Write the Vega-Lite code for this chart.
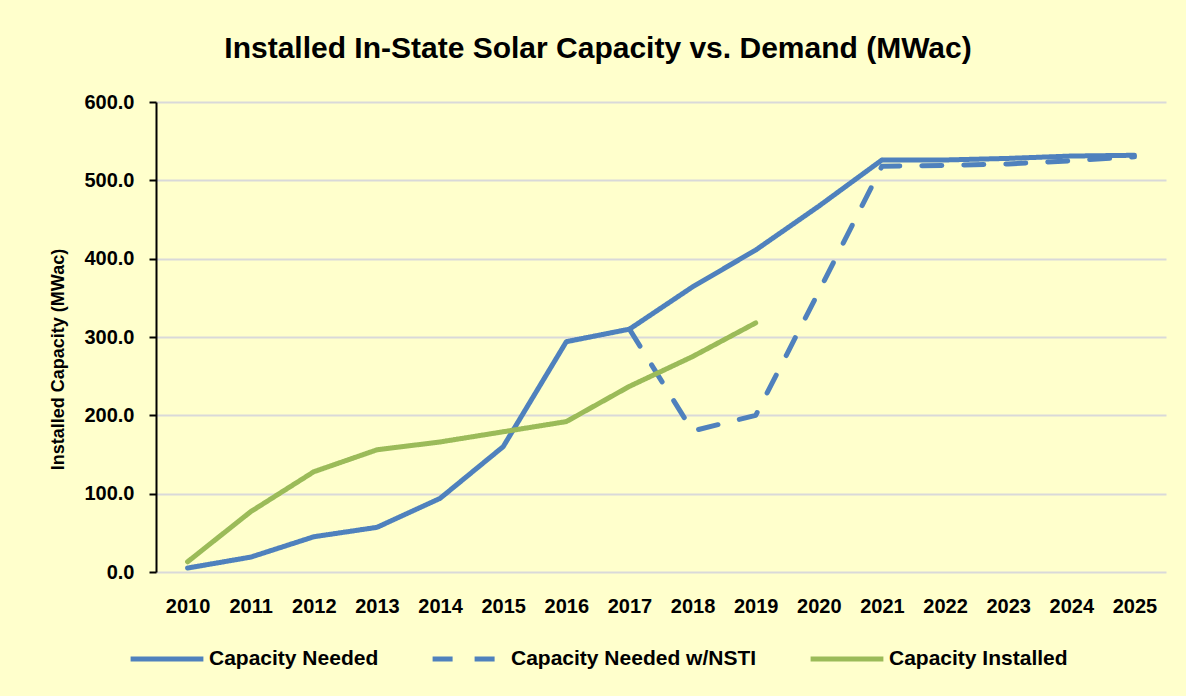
{
  "$schema": "https://vega.github.io/schema/vega-lite/v6.json",
  "width": 1010,
  "height": 470,
  "autosize": {"type": "none"},
  "padding": {"left": 156, "top": 102, "right": 20, "bottom": 124},
  "background": "#FFFFCC",
  "config": {
    "view": {"stroke": null},
    "font": "'Liberation Sans Narrow', 'Arial Narrow', 'Liberation Sans', sans-serif"
  },
  "title": {
    "text": "Installed In-State Solar Capacity vs. Demand (MWac)",
    "fontSize": 30,
    "fontWeight": "bold",
    "color": "#000000",
    "anchor": "middle",
    "dx": -63,
    "offset": 28
  },
  "data": {
    "values": [
      {"year": "2010", "series": "Capacity Needed", "value": 5},
      {"year": "2011", "series": "Capacity Needed", "value": 19},
      {"year": "2012", "series": "Capacity Needed", "value": 45},
      {"year": "2013", "series": "Capacity Needed", "value": 57},
      {"year": "2014", "series": "Capacity Needed", "value": 94},
      {"year": "2015", "series": "Capacity Needed", "value": 160},
      {"year": "2016", "series": "Capacity Needed", "value": 294},
      {"year": "2017", "series": "Capacity Needed", "value": 310},
      {"year": "2018", "series": "Capacity Needed", "value": 364},
      {"year": "2019", "series": "Capacity Needed", "value": 411},
      {"year": "2020", "series": "Capacity Needed", "value": 467},
      {"year": "2021", "series": "Capacity Needed", "value": 526},
      {"year": "2022", "series": "Capacity Needed", "value": 526},
      {"year": "2023", "series": "Capacity Needed", "value": 528},
      {"year": "2024", "series": "Capacity Needed", "value": 531},
      {"year": "2025", "series": "Capacity Needed", "value": 532},
      {"year": "2017", "series": "Capacity Needed w/NSTI", "value": 310},
      {"year": "2018", "series": "Capacity Needed w/NSTI", "value": 180},
      {"year": "2019", "series": "Capacity Needed w/NSTI", "value": 200},
      {"year": "2020", "series": "Capacity Needed w/NSTI", "value": 358},
      {"year": "2021", "series": "Capacity Needed w/NSTI", "value": 518},
      {"year": "2022", "series": "Capacity Needed w/NSTI", "value": 519},
      {"year": "2023", "series": "Capacity Needed w/NSTI", "value": 521},
      {"year": "2024", "series": "Capacity Needed w/NSTI", "value": 525},
      {"year": "2025", "series": "Capacity Needed w/NSTI", "value": 530},
      {"year": "2010", "series": "Capacity Installed", "value": 13},
      {"year": "2011", "series": "Capacity Installed", "value": 77},
      {"year": "2012", "series": "Capacity Installed", "value": 128},
      {"year": "2013", "series": "Capacity Installed", "value": 156},
      {"year": "2014", "series": "Capacity Installed", "value": 166},
      {"year": "2015", "series": "Capacity Installed", "value": 179},
      {"year": "2016", "series": "Capacity Installed", "value": 192},
      {"year": "2017", "series": "Capacity Installed", "value": 237},
      {"year": "2018", "series": "Capacity Installed", "value": 275},
      {"year": "2019", "series": "Capacity Installed", "value": 318}
    ]
  },
  "mark": {"type": "line", "strokeWidth": 5, "strokeCap": "round", "strokeJoin": "round"},
  "encoding": {
    "x": {
      "field": "year",
      "type": "ordinal",
      "scale": {"type": "point", "padding": 0.5},
      "axis": {
        "title": null,
        "labelAngle": 0,
        "labelFontSize": 20,
        "labelFontWeight": "bold",
        "labelColor": "#000000",
        "labelPadding": 24,
        "ticks": false,
        "domain": false,
        "grid": false
      }
    },
    "y": {
      "field": "value",
      "type": "quantitative",
      "scale": {"domain": [0, 600], "nice": false},
      "axis": {
        "title": "Installed Capacity (MWac)",
        "titleFontSize": 18,
        "titleFontWeight": "bold",
        "titleColor": "#000000",
        "titleX": -98,
        "titleY": 257,
        "titleAlign": "center",
        "titleBaseline": "middle",
        "values": [0, 100, 200, 300, 400, 500, 600],
        "format": ".1f",
        "labelFontSize": 20,
        "labelFontWeight": "bold",
        "labelColor": "#000000",
        "labelPadding": 15,
        "domainColor": "#000000",
        "domainWidth": 2,
        "tickColor": "#000000",
        "tickWidth": 2,
        "tickSize": 7,
        "gridColor": "#D9D9D9",
        "gridWidth": 2
      }
    },
    "color": {
      "field": "series",
      "type": "nominal",
      "scale": {
        "domain": ["Capacity Needed", "Capacity Needed w/NSTI", "Capacity Installed"],
        "range": ["#4F81BD", "#4F81BD", "#9BBB59"]
      },
      "legend": {
        "title": null,
        "orient": "none",
        "legendX": -28,
        "legendY": 518,
        "direction": "horizontal",
        "columns": 3,
        "symbolType": "stroke",
        "symbolSize": 5300,
        "symbolStrokeWidth": 5,
        "labelFontSize": 21,
        "labelFontWeight": "bold",
        "labelColor": "#000000",
        "labelOffset": 3,
        "columnPadding": 43,
        "padding": 0,
        "labelLimit": 400
      }
    },
    "strokeDash": {
      "field": "series",
      "type": "nominal",
      "scale": {
        "domain": ["Capacity Needed", "Capacity Needed w/NSTI", "Capacity Installed"],
        "range": [[1, 0], [20, 22], [1, 0]]
      },
      "legend": {
        "title": null,
        "orient": "none",
        "legendX": -28,
        "legendY": 518,
        "direction": "horizontal",
        "columns": 3,
        "symbolType": "stroke",
        "symbolSize": 5300,
        "symbolStrokeWidth": 5,
        "labelFontSize": 21,
        "labelFontWeight": "bold",
        "labelColor": "#000000",
        "labelOffset": 3,
        "columnPadding": 43,
        "padding": 0,
        "labelLimit": 400
      }
    }
  }
}
